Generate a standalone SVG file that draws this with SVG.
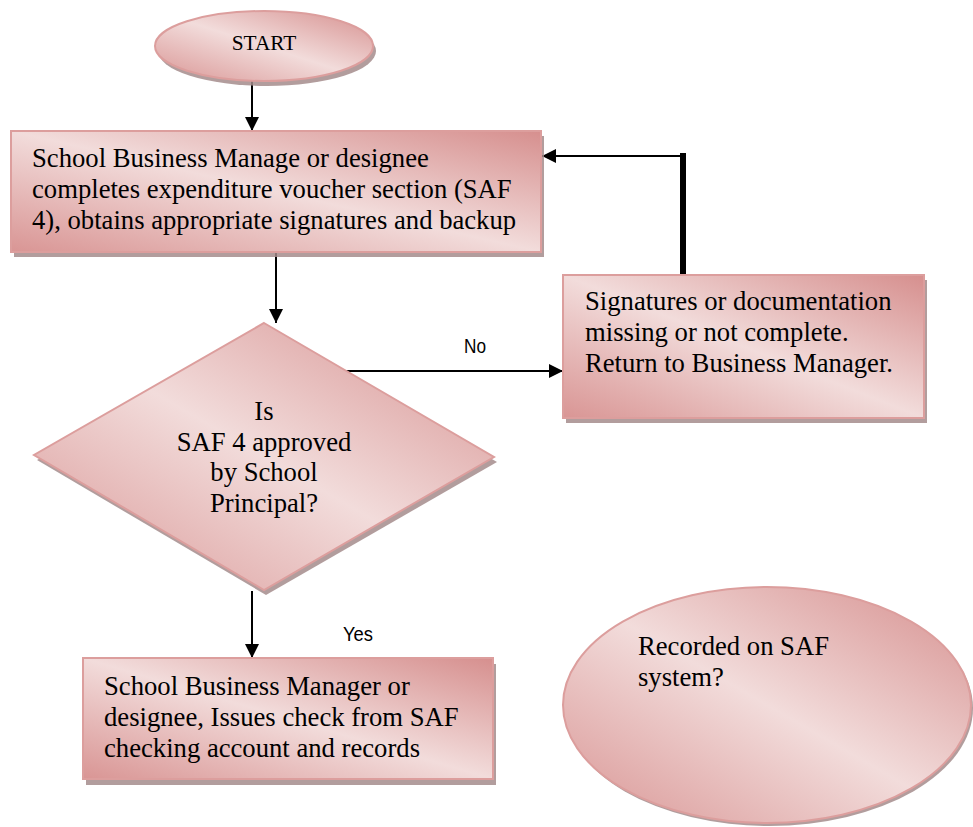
<svg xmlns="http://www.w3.org/2000/svg" width="973" height="827" viewBox="0 0 973 827">
<defs>
  <linearGradient id="pink" x1="1" y1="0" x2="0" y2="1">
    <stop offset="0" stop-color="#d68f8e"/>
    <stop offset="0.5" stop-color="#f2dcdb"/>
    <stop offset="1" stop-color="#d99594"/>
  </linearGradient>
  <marker id="arrow" markerUnits="userSpaceOnUse" markerWidth="16" markerHeight="14" refX="14" refY="7" orient="auto">
    <path d="M0,0 L14,7 L0,14 Z" fill="#000"/>
  </marker>
</defs>
<style>
  .shape { fill: url(#pink); stroke: #dc9e9d; stroke-width: 2; }
  .shadow { fill: #a58c8c; opacity: 0.85; }
  .txt { font-family: "Liberation Serif", "Times New Roman", serif; font-size: 26.67px; fill: #000; }
  .small { font-family: "Liberation Serif", "Times New Roman", serif; font-size: 21.33px; fill: #000; }
  .lbl { font-family: "Liberation Sans", Arial, sans-serif; font-size: 21px; fill: #000; }
  .conn { stroke: #000; stroke-width: 2; fill: none; }
</style>
<rect width="973" height="827" fill="#fff"/>

<g id="connectors">
  <path class="conn" d="M252,81 V131" marker-end="url(#arrow)"/>
  <path class="conn" d="M276,253 V323" marker-end="url(#arrow)"/>
  <path class="conn" d="M346,371 H563" marker-end="url(#arrow)"/>
  <path d="M683,275 V153" stroke="#000" stroke-width="6" fill="none"/>
  <path class="conn" d="M686,156 H542" marker-end="url(#arrow)"/>
  <path class="conn" d="M252,591 V658" marker-end="url(#arrow)"/>
  <text class="lbl" x="464" y="353" textLength="22" lengthAdjust="spacingAndGlyphs">No</text>
  <text class="lbl" x="343" y="641" textLength="30" lengthAdjust="spacingAndGlyphs">Yes</text>
</g>

<g id="start">
  <ellipse class="shadow" cx="267" cy="51" rx="109" ry="35"/>
  <ellipse class="shape" cx="264" cy="46" rx="109" ry="35"/>
  <text class="small" x="264" y="50" text-anchor="middle">START</text>
</g>

<g id="complete-voucher">
  <rect class="shadow" x="14" y="136" width="530" height="121"/>
  <rect class="shape" x="11" y="131" width="530" height="121"/>
  <text class="txt" x="32" y="167">School Business Manage or designee</text>
  <text class="txt" x="32" y="198">completes expenditure voucher section (SAF</text>
  <text class="txt" x="32" y="229">4), obtains appropriate signatures and backup</text>
</g>

<g id="return">
  <rect class="shadow" x="566" y="280" width="361" height="143"/>
  <rect class="shape" x="563" y="275" width="361" height="143"/>
  <text class="txt" x="585" y="310">Signatures or documentation</text>
  <text class="txt" x="585" y="341">missing or not complete.</text>
  <text class="txt" x="585" y="372">Return to Business Manager.</text>
</g>

<g id="decision">
  <polygon class="shadow" points="266,328 497,462 266,595 37,460"/>
  <polygon class="shape" points="264,323 494,457 264,590 34,455"/>
  <text class="txt" x="264" y="420" text-anchor="middle">Is</text>
  <text class="txt" x="264" y="451" text-anchor="middle">SAF 4 approved</text>
  <text class="txt" x="264" y="481" text-anchor="middle">by School</text>
  <text class="txt" x="264" y="512" text-anchor="middle">Principal?</text>
</g>

<g id="issue-check">
  <rect class="shadow" x="86" y="664" width="410" height="121"/>
  <rect class="shape" x="83" y="658" width="410" height="121"/>
  <text class="txt" x="104" y="695">School Business Manager or</text>
  <text class="txt" x="104" y="726">designee, Issues check from SAF</text>
  <text class="txt" x="104" y="757">checking account and records</text>
</g>

<g id="recorded">
  <ellipse class="shadow" cx="769" cy="708" rx="204" ry="118"/>
  <ellipse class="shape" cx="767" cy="705" rx="204" ry="118"/>
  <text class="txt" x="638" y="655">Recorded on SAF</text>
  <text class="txt" x="638" y="686">system?</text>
</g>
</svg>
